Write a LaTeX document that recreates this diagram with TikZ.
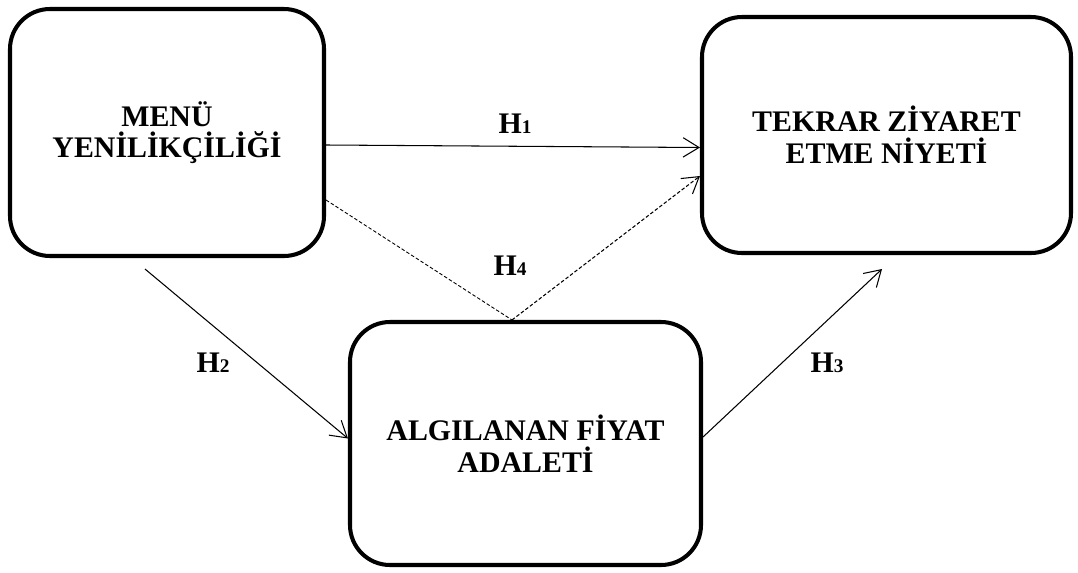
\documentclass[tikz,border=0pt]{standalone}
\usepackage{fontspec}
\setmainfont{Liberation Serif}
\usetikzlibrary{arrows.meta}

\begin{document}
\begin{tikzpicture}[
    box/.style={draw, line width=2.3pt, rounded corners=0.8cm, align=center,
        font=\fontsize{17pt}{18pt}\selectfont\bfseries},
    hyp/.style={inner sep=0pt, font=\fontsize{17pt}{18pt}\selectfont\bfseries},
    rel/.style={line width=0.6pt, -{Straight Barb[length=9pt,width=11pt]}},
    dashrel/.style={line width=0.5pt, dash pattern=on 2pt off 1.2pt}
]
        \begin{scope}
        \useasboundingbox (0, 0) rectangle (21.56, -11.46);

        \node[box, minimum width=6.28cm, minimum height=4.94cm] (menu) at (3.34, -2.65) {MENÜ\\YENİLİKÇİLİĞİ};
        \node[box, minimum width=7.38cm, minimum height=4.72cm] (niyet) at (17.73, -2.7) {TEKRAR ZİYARET\\ETME NİYETİ};
        \node[box, minimum width=7.02cm, minimum height=4.86cm] (adalet) at (10.51, -8.87) {ALGILANAN FİYAT\\ADALETİ};

        \node[hyp] (h1) at (10.3, -2.48) {H{\fontsize{11pt}{11pt}\selectfont 1}};
        \node[hyp] (h2) at (4.26, -7.26) {H{\fontsize{11pt}{11pt}\selectfont 2}};
        \node[hyp] (h3) at (16.54, -7.26) {H{\fontsize{11pt}{11pt}\selectfont 3}};
        \node[hyp] (h4) at (10.2, -5.32) {H{\fontsize{11pt}{11pt}\selectfont 4}};

        \coordinate (dip) at ([xshift=-0.27cm]adalet.north);

        \draw[rel] ([yshift=-0.25cm]menu.east) -- ([yshift=-0.25cm]niyet.west);
        \draw[rel] ([xshift=-0.44cm, yshift=-0.22cm]menu.south) -- ([yshift=0.1cm]adalet.west);
        \draw[rel] ([yshift=0.13cm]adalet.east) -- ([xshift=-0.09cm, yshift=-0.28cm]niyet.south);

        \draw[dashrel] ([yshift=-1.35cm]menu.east) -- (dip);
        \draw[dashrel, rel] (dip) -- ([yshift=-0.82cm]niyet.west);
    \end{scope}

\end{tikzpicture}
\end{document}
